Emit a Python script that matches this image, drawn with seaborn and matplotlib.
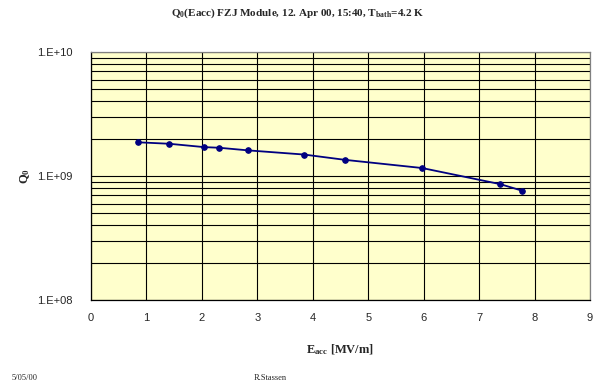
import pandas as pd
import numpy as np
import matplotlib
matplotlib.use("Agg")
import matplotlib.pyplot as plt
import matplotlib.ticker as mticker
import seaborn as sns

# data
e_acc = [0.85, 1.41, 2.04, 2.31, 2.83, 3.84, 4.58, 5.97, 7.38, 7.78]
q0 = [1.87e9, 1.82e9, 1.71e9, 1.69e9, 1.61e9, 1.49e9, 1.35e9, 1.16e9, 8.6e8, 7.6e8]
x_ticks = list(range(0, 10))
y_ticks = [1e8, 1e9, 1e10]
y_ticklabels = ["1.E+08", "1.E+09", "1.E+10"]

df = pd.DataFrame({"Eacc": e_acc, "Q0": q0})

sns.set_style("white")
plt.rcParams["font.family"] = ["Liberation Sans", "DejaVu Sans"]
plt.rcParams["mathtext.fontset"] = "custom"
plt.rcParams["mathtext.rm"] = "Liberation Serif:bold"
plt.rcParams["mathtext.it"] = "Liberation Serif:bold"
plt.rcParams["mathtext.bf"] = "Liberation Serif:bold"

fig = plt.figure(figsize=(5.96, 3.91), dpi=100)
ax = fig.add_axes([0.1527, 0.2327, 0.8373, 0.6343])
ax.set_facecolor("#FFFFCC")

sns.lineplot(data=df, x="Eacc", y="Q0", ax=ax, color="#000080", marker="o",
             markersize=4, markeredgecolor="#000080", linewidth=1.3)

ax.set_yscale("log")
ax.set_xlim(0, 9)
ax.set_ylim(1e8, 1e10)
ax.set_xticks(x_ticks)
ax.set_xticklabels([str(t) for t in x_ticks], fontsize=8)
ax.set_yticks(y_ticks)
ax.set_yticklabels(y_ticklabels, fontsize=8)
ax.yaxis.set_minor_locator(mticker.LogLocator(base=10, subs=np.arange(2, 10)))
ax.yaxis.set_minor_formatter(mticker.NullFormatter())

ax.grid(True, which="major", axis="both", color="black", linewidth=0.8)
ax.grid(True, which="minor", axis="y", color="black", linewidth=0.8)
ax.tick_params(axis="x", which="major", direction="out", length=4, width=0.8,
               color="black", pad=5)
ax.tick_params(axis="y", which="major", direction="out", length=5, width=0.8,
               color="black", pad=8)
ax.tick_params(axis="y", which="minor", length=0)
for side in ["top", "right"]:
    ax.spines[side].set_color("#808080")
for side in ["left", "bottom"]:
    ax.spines[side].set_color("black")
for s in ax.spines.values():
    s.set_linewidth(0.9)

serif_bold = dict(family="Liberation Serif", weight="bold")
ax.set_xlabel(r"E$_\mathrm{acc}$ [MV/m]", fontsize=9, labelpad=14, **serif_bold)
ax.set_ylabel(r"Q$_\mathrm{0}$", fontsize=9, labelpad=4, **serif_bold)

fig.text(0.5, 0.965, r"Q$_\mathrm{0}$(Eacc) FZJ Module, 12. Apr 00, 15:40, T$_\mathrm{bath}$=4.2 K",
         ha="center", va="center", fontsize=8, **serif_bold)
fig.text(0.02, 0.033, "5/05/00", fontsize=6, family="Liberation Serif", va="center")
fig.text(0.425, 0.033, "R.Stassen", fontsize=6, family="Liberation Serif", va="center")

fig.savefig("out.png", dpi=100)
